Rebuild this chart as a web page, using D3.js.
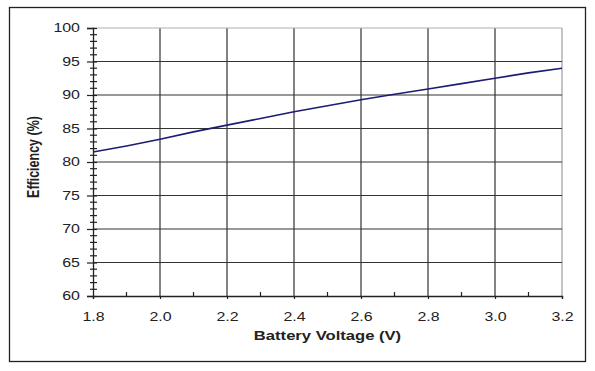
<!DOCTYPE html>
<html>
<head>
<meta charset="utf-8">
<script src="https://cdn.jsdelivr.net/npm/d3@7"></script>
<style>
  body { margin: 0; background: #fff; }
  svg { font-family: "Liberation Sans", Arial, sans-serif; }
</style>
</head>
<body>
<div id="chart"></div>
<script>
// battery voltage (V) and efficiency (%)
let voltage = [1.8, 1.9, 2.0, 2.1, 2.2, 2.3, 2.4, 2.5, 2.6, 2.7, 2.8, 2.9, 3.0, 3.1, 3.2]
let efficiency = [81.5, 82.4, 83.4, 84.5, 85.5, 86.5, 87.5, 88.4, 89.3, 90.1, 90.9, 91.7, 92.5, 93.3, 94.0]
let xTicks = [1.8, 2.0, 2.2, 2.4, 2.6, 2.8, 3.0, 3.2]
let yTicks = [60, 65, 70, 75, 80, 85, 90, 95, 100]

let W = 595, H = 371
let margin = {top: 28, right: 33, bottom: 75, left: 93}
let width = 562 - margin.left
let height = 296 - margin.top
// the original picture is stretched sideways, text included
let stretch = 1.33

let svg = d3.select("#chart").append("svg")
    .attr("width", W)
    .attr("height", H)

// outer frame
svg.append("rect")
    .attr("x", 9.5).attr("y", 7.5)
    .attr("width", 576).attr("height", 354)
    .attr("fill", "none")
    .attr("stroke", "#222")
    .attr("stroke-width", 1.3)

let g = svg.append("g")
    .attr("transform", "translate(" + margin.left + "," + margin.top + ")")

let x = d3.scaleLinear().domain([1.8, 3.2]).range([0, width])
let y = d3.scaleLinear().domain([60, 100]).range([height, 0])

// gridlines
g.selectAll(".vgrid").data(xTicks.slice(1)).enter().append("line")
    .attr("x1", d => x(d)).attr("x2", d => x(d))
    .attr("y1", 0).attr("y2", height)
    .attr("stroke", d => d === 3.2 ? "#b0b0b0" : "#5a5a5a")
    .attr("stroke-width", 1.5)

g.selectAll(".hgrid").data(yTicks.slice(1)).enter().append("line")
    .attr("x1", 0).attr("x2", width)
    .attr("y1", d => y(d)).attr("y2", d => y(d))
    .attr("stroke", d => d === 100 ? "#b0b0b0" : "#333")
    .attr("stroke-width", 1.2)

// y axis with minor ticks
let yMinor = d3.range(60, 101, 1).filter(d => d % 5 !== 0)
g.selectAll(".yminor").data(yMinor).enter().append("line")
    .attr("x1", -3).attr("x2", 4)
    .attr("y1", d => y(d)).attr("y2", d => y(d))
    .attr("stroke", "#222").attr("stroke-width", 1.2)

let yAxis = g.append("g")
    .call(d3.axisLeft(y).tickValues(yTicks).tickSize(6).tickPadding(6).tickFormat(d3.format("d")))
yAxis.select(".domain").attr("stroke", "#222").attr("stroke-width", 1.3)
yAxis.selectAll(".tick line").attr("stroke", "#222").attr("stroke-width", 1.2).attr("x2", -6).attr("x1", 4)
yAxis.selectAll("text")
    .style("font-size", "12px").attr("fill", "#222")
    .attr("x", -13 / stretch)
    .attr("transform", "scale(" + stretch + ",1)")

// x axis with minor ticks
let xMinor = d3.range(1.9, 3.2, 0.2)
g.selectAll(".xminor").data(xMinor).enter().append("line")
    .attr("x1", d => x(d)).attr("x2", d => x(d))
    .attr("y1", height).attr("y2", height - 4)
    .attr("stroke", "#222").attr("stroke-width", 1.2)

let xAxis = g.append("g")
    .attr("transform", "translate(0," + height + ")")
    .call(d3.axisBottom(x).tickValues(xTicks).tickSize(3).tickPadding(13).tickFormat(d3.format(".1f")))
xAxis.select(".domain").attr("stroke", "#222").attr("stroke-width", 1.3)
xAxis.selectAll(".tick line").attr("stroke", "#222").attr("stroke-width", 1.2)
xAxis.selectAll("text")
    .style("font-size", "12px").attr("fill", "#222")
    .attr("transform", "scale(" + stretch + ",1)")

// data line
let lineGen = d3.line()
    .x((d, i) => x(voltage[i]))
    .y(d => y(d))

g.append("path")
    .attr("d", lineGen(efficiency))
    .attr("fill", "none")
    .attr("stroke", "#1c1c72")
    .attr("stroke-width", 1.6)

// axis titles
svg.append("text")
    .attr("transform", "translate(" + (93 + 562) / 2 + ",340) scale(" + stretch + ",1)")
    .attr("text-anchor", "middle")
    .style("font-size", "12.5px")
    .style("font-weight", "bold")
    .attr("fill", "#222")
    .text("Battery Voltage (V)")

svg.append("text")
    .attr("transform", "translate(39,157) scale(" + stretch + ",1) rotate(-90)")
    .attr("text-anchor", "middle")
    .style("font-size", "12.5px")
    .style("font-weight", "bold")
    .attr("fill", "#222")
    .text("Efficiency (%)")
</script>
</body>
</html>
